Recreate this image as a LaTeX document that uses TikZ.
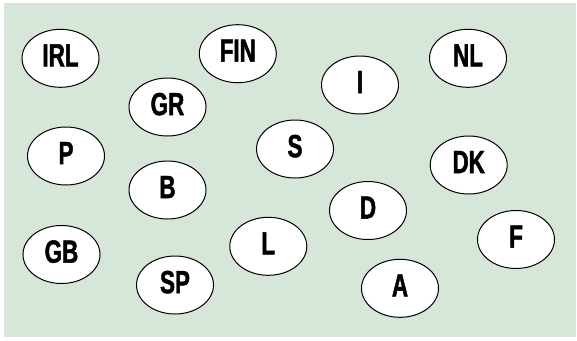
\documentclass[tikz,border=0pt]{standalone}
\usepackage{fontspec}
\setmainfont{Liberation Sans}[FakeStretch=0.7,BoldFeatures={FakeBold=1.5}]
\usetikzlibrary{shapes.geometric}
\definecolor{bggreen}{RGB}{214,230,216}
\begin{document}
\begin{tikzpicture}[x=1pt,y=-1pt,
  country/.style={ellipse,draw=black,line width=1pt,fill=white,inner sep=0pt,
    minimum width=77pt,minimum height=58pt,text depth=6pt,
    font=\fontsize{32}{34}\selectfont\bfseries}]
\useasboundingbox (0,0) rectangle (577,340);
\fill[bggreen] (4,3) rectangle (576,337);
\node[country] (irl) at (60.5,58.3) {IRL};
\node[country] (fin) at (237.8,53.7) {FIN};
\node[country] (nl) at (468,58.3) {NL};
\node[country] (gr) at (167.5,107) {GR};
\node[country] (i) at (360,85) {I};
\node[country] (p) at (66,156) {P};
\node[country] (s) at (295,149) {S};
\node[country] (dk) at (468.7,165) {DK};
\node[country] (b) at (167.5,190) {B};
\node[country] (d) at (368,210.5) {D};
\node[country] (f) at (516,239.5) {F};
\node[country] (l) at (268.3,246.3) {L};
\node[country] (gb) at (61.5,254.5) {GB};
\node[country] (sp) at (175,285) {SP};
\node[country] (a) at (400,288.3) {A};
\end{tikzpicture}
\end{document}
